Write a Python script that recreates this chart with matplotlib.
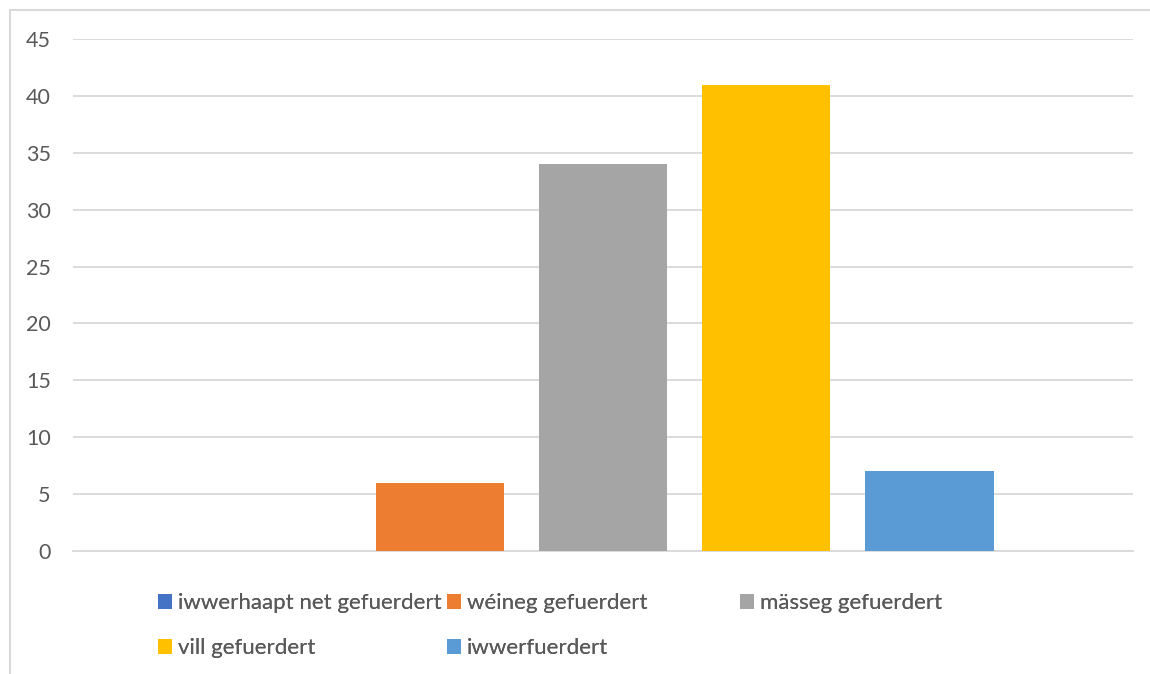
import matplotlib.pyplot as plt
from matplotlib.lines import Line2D

# data
series = ["iwwerhaapt net gefuerdert", "wéineg gefuerdert", "mässeg gefuerdert",
          "vill gefuerdert", "iwwerfuerdert"]
values = [0, 6, 34, 41, 7]
colors = ["#4472C4", "#ED7D31", "#A5A5A5", "#FFC000", "#5B9BD5"]
yticks = [0, 5, 10, 15, 20, 25, 30, 35, 40, 45]

W, H = 1150, 674
plt.rcParams['font.family'] = ['Lato', 'DejaVu Sans']
fig = plt.figure(figsize=(W / 100, H / 100), dpi=100)

# Rahmen oben und links wie im Excel-Diagramm
fig.add_artist(Line2D([9.5 / W, 9.5 / W], [0, 1 - 10 / H], color="#d9d9d9", lw=1.5))
fig.add_artist(Line2D([9.5 / W, 1], [1 - 10 / H, 1 - 10 / H], color="#d9d9d9", lw=1.5))

ax = fig.add_axes([73 / W, (H - 551) / H, (1133 - 73) / W, (551 - 39) / H])

bars = []
for i in range(len(series)):
    b = ax.bar(i, values[i], width=0.79, color=colors[i], label=series[i], zorder=3)
    bars.append(b)

ax.set_xlim(-1.25, 5.25)
ax.set_ylim(0, 45)
ax.set_yticks(yticks)
ax.set_xticks([])
ax.grid(axis="y", color="#d9d9d9", linewidth=1.3, zorder=0)
for s in ["top", "right", "left"]:
    ax.spines[s].set_visible(False)
ax.spines["bottom"].set_color("#d9d9d9")
ax.spines["bottom"].set_linewidth(1.3)
ax.tick_params(axis="y", length=0, pad=16, labelsize=15.5, labelcolor="#595959")

# Legende: jede Zeile einzeln positioniert (gleich breite Spalten wie in Excel)
pos = [(158, 603), (447, 603), (740, 603), (158, 648), (447, 648)]
for i in range(len(series)):
    leg = fig.legend([bars[i]], [series[i]], loc="center left",
                     bbox_to_anchor=(pos[i][0] / W, 1 - pos[i][1] / H),
                     frameon=False, fontsize=16,
                     handlelength=0.64, handleheight=0.64, handletextpad=0.25,
                     borderpad=0, borderaxespad=0)
    for t in leg.get_texts():
        t.set_color("#595959")
    fig.add_artist(leg)

fig.savefig("out.png", dpi=100)
